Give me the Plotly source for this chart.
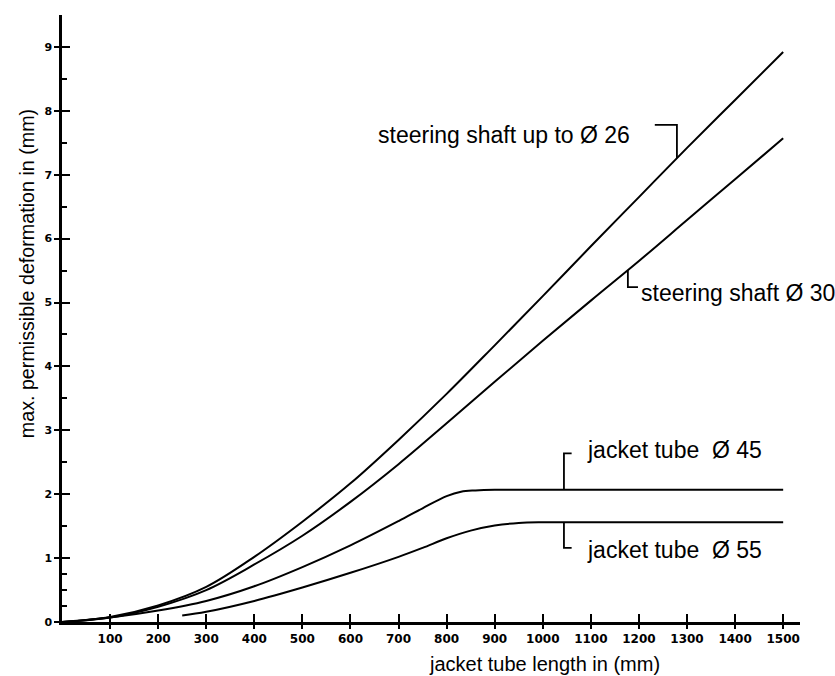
import plotly.graph_objects as go

# ---- data ----
x_shaft = [0, 100, 200, 300, 400, 500, 600, 700, 800, 900, 1000, 1100, 1200, 1300, 1400, 1500]
y_shaft26 = [0, 0.08, 0.26, 0.55, 1.02, 1.57, 2.17, 2.85, 3.57, 4.33, 5.10, 5.88, 6.65, 7.42, 8.17, 8.92]
y_shaft30 = [0, 0.07, 0.24, 0.50, 0.90, 1.35, 1.88, 2.47, 3.11, 3.76, 4.40, 5.03, 5.65, 6.29, 6.93, 7.57]

x_tube45 = [0, 100, 200, 300, 400, 500, 600, 700, 750, 800, 830, 860, 900, 1000, 1100, 1200, 1300, 1400, 1500]
y_tube45 = [0, 0.07, 0.18, 0.33, 0.56, 0.86, 1.20, 1.58, 1.78, 1.97, 2.04, 2.06, 2.07, 2.07, 2.07, 2.07, 2.07, 2.07, 2.07]

x_tube55 = [250, 300, 400, 500, 600, 700, 750, 800, 850, 900, 950, 1000, 1100, 1200, 1300, 1400, 1500]
y_tube55 = [0.10, 0.16, 0.33, 0.54, 0.77, 1.02, 1.16, 1.31, 1.43, 1.51, 1.55, 1.56, 1.56, 1.56, 1.56, 1.56, 1.56]

x_ticks = [100, 200, 300, 400, 500, 600, 700, 800, 900, 1000, 1100, 1200, 1300, 1400, 1500]
y_ticks = [0, 1, 2, 3, 4, 5, 6, 7, 8, 9]
y_minor = [0.25, 0.5, 0.75, 1.5, 2.5, 3.5, 4.5, 5.5, 6.5, 7.5, 8.5]

labels = ["steering shaft up to Ø 26", "steering shaft Ø 30", "jacket tube  Ø 45", "jacket tube  Ø 55"]
x_title = "jacket tube length in (mm)"
y_title = "max. permissible deformation in (mm)"

X_RANGE = [0, 1535]
Y_RANGE = [0, 9.5]

fig = go.Figure()
for xs, ys, name in [(x_shaft, y_shaft26, labels[0]), (x_shaft, y_shaft30, labels[1]),
                     (x_tube45, y_tube45, labels[2]), (x_tube55, y_tube55, labels[3])]:
    fig.add_trace(go.Scatter(x=xs, y=ys, mode="lines",
                             line=dict(color="black", width=2, shape="spline", smoothing=1.0),
                             name=name, showlegend=False, hoverinfo="skip"))

# empty trace that carries the overlay axes (inner half of the crossing ticks)
fig.add_trace(go.Scatter(x=[None], y=[None], xaxis="x2", yaxis="y2", showlegend=False, hoverinfo="skip"))

tickfont = dict(family="DejaVu Sans", size=12, color="black", weight="bold")

fig.update_layout(
    width=835, height=676,
    margin=dict(l=62, r=35, t=15, b=54),
    paper_bgcolor="white", plot_bgcolor="white",
    xaxis=dict(range=X_RANGE, showgrid=False, zeroline=False, showline=True, linecolor="black", linewidth=2.5,
               automargin=False,
               tickmode="array", tickvals=x_ticks, ticktext=[str(v) for v in x_ticks],
               ticks="outside", ticklen=4, tickwidth=1.5, tickcolor="black", tickfont=tickfont),
    yaxis=dict(range=Y_RANGE, showgrid=False, zeroline=False, showline=True, linecolor="black", linewidth=2.5,
               automargin=False,
               tickmode="array", tickvals=y_ticks, ticktext=[str(v) for v in y_ticks],
               ticks="outside", ticklen=5, tickwidth=1.5, tickcolor="black",
               tickfont=dict(family="DejaVu Sans", size=11, color="black", weight="bold")),
    xaxis2=dict(range=X_RANGE, overlaying="x", anchor="y", showgrid=False, zeroline=False, showline=False,
                automargin=False,
                tickmode="array", tickvals=x_ticks, ticks="inside", ticklen=8, tickwidth=1.5,
                tickcolor="black", showticklabels=False),
    yaxis2=dict(range=Y_RANGE, overlaying="y", anchor="x", showgrid=False, zeroline=False, showline=False,
                automargin=False,
                tickmode="array", tickvals=y_ticks, ticks="inside", ticklen=8, tickwidth=1.5,
                tickcolor="black", showticklabels=False,
                minor=dict(tickmode="array", tickvals=y_minor, ticks="inside", ticklen=5, tickwidth=1.5,
                           tickcolor="black")),
)

title_font = dict(family="Liberation Sans, Arial", size=20, color="black")
fig.add_annotation(xref="paper", yref="paper", x=0.654, y=-0.069, text=x_title, showarrow=False,
                   xanchor="center", yanchor="middle", font=title_font)
fig.add_annotation(xref="paper", yref="paper", x=-0.0474, y=0.573, text=y_title, showarrow=False,
                   textangle=-90, xanchor="center", yanchor="middle",
                   font=dict(family="Liberation Sans, Arial", size=19.7, color="black"))

lab_font = dict(family="Liberation Sans, Arial", size=23, color="black")
fig.add_annotation(x=1185, y=7.62, text=labels[0], showarrow=False, xanchor="right", yanchor="middle", font=lab_font)
fig.add_annotation(x=1200, y=5.15, text=labels[1], showarrow=False, xanchor="left", yanchor="middle", font=lab_font)
fig.add_annotation(x=1087, y=2.69, text=labels[2], showarrow=False, xanchor="left", yanchor="middle", font=lab_font)
fig.add_annotation(x=1087, y=1.13, text=labels[3], showarrow=False, xanchor="left", yanchor="middle", font=lab_font)

# leader brackets
bl = dict(color="black", width=1.8)
fig.add_shape(type="path", path="M 1233,7.78 L 1279,7.78 L 1279,7.26", line=bl, xref="x", yref="y")
fig.add_shape(type="path", path="M 1177,5.51 L 1177,5.24 L 1198,5.24", line=bl, xref="x", yref="y")
fig.add_shape(type="path", path="M 1060,2.64 L 1044,2.64 L 1044,2.07", line=bl, xref="x", yref="y")
fig.add_shape(type="path", path="M 1044,1.56 L 1044,1.16 L 1060,1.16", line=bl, xref="x", yref="y")

fig.write_html("out.html", config={"displayModeBar": False},
               post_script="document.body.style.margin='0';document.body.style.overflow='hidden';")
